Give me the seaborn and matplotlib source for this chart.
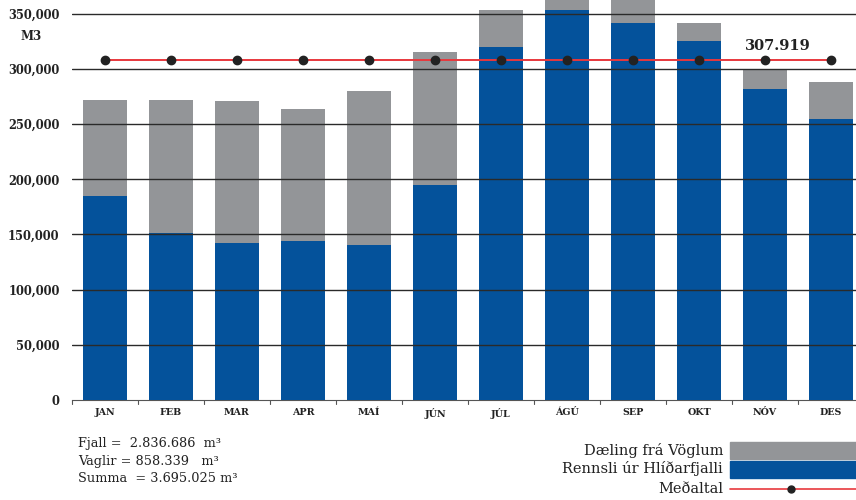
import numpy as np
import pandas as pd
import matplotlib
matplotlib.use("Agg")
import matplotlib.pyplot as plt
from matplotlib.patches import Rectangle
from matplotlib.lines import Line2D
import seaborn as sns

# =====================================
# Data
# =====================================

months = ["JAN", "FEB", "MAR", "APR", "MAÍ", "JÚN",
          "JÚL", "ÁGÚ", "SEP", "OKT", "NÓV", "DES"]

# Rennsli úr Hlíðarfjalli (m3)
fjall = [184800, 151300, 142200, 144000, 140400, 194700,
         319700, 353300, 341500, 325200, 281700, 254500]

# Dæling frá Vöglum (m3)
vaglir = [86900, 120200, 128600, 119600, 139500, 120500,
          33600, 18700, 26500, 16300, 18100, 33500]

average = 307919
average_label = "307.919"

y_ticks = [0, 50000, 100000, 150000, 200000, 250000, 300000, 350000]
y_tick_labels = ["0", "50,000", "100,000", "150,000", "200,000",
                 "250,000", "300,000", "350,000"]

summary_lines = ["Fjall =  2.836.686  m³",
                 "Vaglir = 858.339   m³",
                 "Summa  = 3.695.025 m³"]

legend_labels = ["Dæling frá Vöglum", "Rennsli úr Hlíðarfjalli", "Meðaltal"]

# =====================================
# Styling
# =====================================

BLUE = "#04529b"
GRAY = "#939598"
RED = "#e8383d"
DOT = "#222222"

sns.set_style("white")
plt.rcParams["font.family"] = ["DejaVu Serif"]

df = pd.DataFrame({"month": months, "fjall": fjall, "vaglir": vaglir})
df["total"] = df["fjall"] + df["vaglir"]

fig = plt.figure(figsize=(8.56, 5.0), dpi=100)
ax = fig.add_axes([72 / 856, 0.2, 784 / 856, 0.8])

# stacked bars: total in gray, fjall in blue on top
sns.barplot(data=df, x="month", y="total", color=GRAY, width=0.68,
            saturation=1, linewidth=0, ax=ax, zorder=2)
sns.barplot(data=df, x="month", y="fjall", color=BLUE, width=0.68,
            saturation=1, linewidth=0, ax=ax, zorder=3)

# gridlines over the bars
for t in y_ticks[1:]:
    ax.axhline(t, color="#2a2a2a", lw=1.0, zorder=4)

# average line
xs = np.arange(len(months))
ax.plot(xs, [average] * len(months), color=RED, lw=1.4, zorder=5)
ax.scatter(xs, [average] * len(months), color=DOT, s=36, zorder=6)
ax.text(xs[10] + 0.2, average + 7000, average_label, ha="center", va="bottom",
        fontsize=10.5, fontweight="bold", color="#222222", zorder=7)

ax.set_ylim(0, 362500)
ax.set_xlim(-0.5, len(months) - 0.5 - 8 / 66)
ax.set_yticks(y_ticks)
ax.set_yticklabels(y_tick_labels, fontsize=8.3, fontweight="bold", color="#222222")
ax.tick_params(axis="y", length=0, pad=9)

ax.set_xticks(xs)
ax.set_xticklabels(months, fontsize=6.8, fontweight="bold", color="#222222")
ax.tick_params(axis="x", length=0, pad=6)
ax.set_xlabel("")
ax.set_ylabel("")

# boundary ticks on the x axis
for b in np.arange(-0.5, len(months), 1.0):
    ax.plot([b, b], [0, -3500], color="#555555", lw=0.8, clip_on=False, zorder=4)

for s in ["top", "right", "left"]:
    ax.spines[s].set_visible(False)
ax.spines["bottom"].set_color("#555555")
ax.spines["bottom"].set_linewidth(0.8)

fig.text(31 / 856, 1 - 36 / 500, "M3", fontsize=8.5, fontweight="bold",
         color="#222222", ha="center", va="center")

# summary text
for i, line in enumerate(summary_lines):
    fig.text(78 / 856, 1 - (444 + i * 17) / 500, line, fontsize=9.3,
             color="#222222", ha="left", va="center")

# legend drawn at bottom right
rows = [450, 469, 489]
for label, y in zip(legend_labels, rows):
    fig.text(723 / 856, 1 - y / 500, label, fontsize=10.5, color="#222222",
             ha="right", va="center")
fig.add_artist(Rectangle((730 / 856, 1 - 459 / 500), 126 / 856, 17 / 500,
                         transform=fig.transFigure, color=GRAY))
fig.add_artist(Rectangle((730 / 856, 1 - 478 / 500), 126 / 856, 17 / 500,
                         transform=fig.transFigure, color=BLUE))
fig.add_artist(Line2D([730 / 856, 1.0], [1 - 489 / 500] * 2,
                      transform=fig.transFigure, color=RED, lw=1.2))
fig.add_artist(Line2D([791 / 856], [1 - 489 / 500], marker="o", markersize=5,
                      color=DOT, transform=fig.transFigure))

fig.savefig("out.png", dpi=100)
